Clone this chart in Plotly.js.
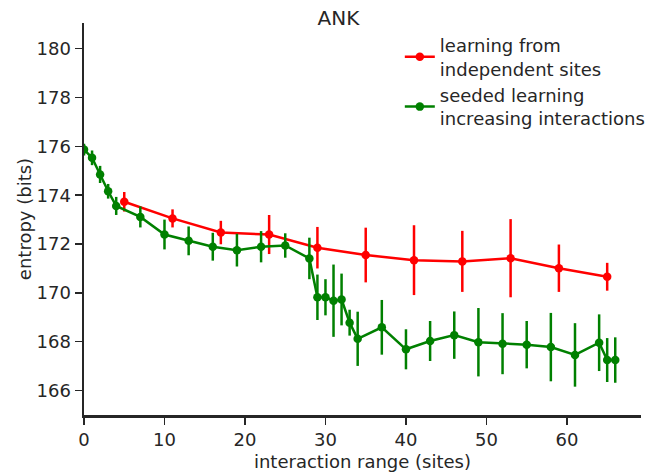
<!DOCTYPE html>
<html>
<head>
<meta charset="utf-8">
<script src="https://cdn.plot.ly/plotly-3.0.1.min.js"></script>
<style>html,body{margin:0;padding:0;background:#fff;}#chart{width:652px;height:475px;}</style>
</head>
<body>
<div id="chart"></div>
<script>
// Red series: learning from independent sites
const indepX   = [5, 11, 17, 23, 29, 35, 41, 47, 53, 59, 65];
const indepY   = [173.73, 173.05, 172.47, 172.39, 171.85, 171.55, 171.34, 171.29, 171.42, 171.01, 170.66];
const indepErr = [0.40, 0.37, 0.48, 0.80, 0.85, 1.12, 1.43, 1.25, 1.60, 0.97, 0.57];

// Green series: seeded learning increasing interactions
const seededX   = [0, 1, 2, 3, 4, 7, 10, 13, 16, 19, 22, 25, 28, 29, 30, 31, 32, 33, 34, 37, 40, 43, 46, 49, 52, 55, 58, 61, 64, 65, 66];
const seededY   = [175.87, 175.53, 174.85, 174.16, 173.56, 173.11, 172.39, 172.13, 171.89, 171.75, 171.89, 171.94, 171.41, 169.82, 169.82, 169.68, 169.73, 168.78, 168.12, 168.59, 167.69, 168.03, 168.27, 167.98, 167.92, 167.88, 167.78, 167.46, 167.96, 167.25, 167.25];
const seededErr = [0.24, 0.30, 0.35, 0.30, 0.37, 0.43, 0.61, 0.59, 0.57, 0.67, 0.64, 0.50, 0.85, 0.93, 0.74, 1.48, 1.06, 0.53, 1.11, 1.12, 0.82, 0.82, 0.97, 1.40, 1.25, 0.97, 1.40, 1.30, 1.16, 0.90, 0.93];

const yTicks = [166, 168, 170, 172, 174, 176, 178, 180];
const xTicks = [0, 10, 20, 30, 40, 50, 60];

const FONT = 'DejaVu Sans, sans-serif';
const TXT = '#262626';
const FS = 18;

function series(x, y, err, color, name) {
  return {
    x: x, y: y, name: name, type: 'scatter', mode: 'lines+markers',
    line: {color: color, width: 2.5},
    marker: {color: color, size: 8.5},
    error_y: {type: 'data', array: err, visible: true, color: color, thickness: 2.5, width: 0}
  };
}

const data = [
  series(indepX, indepY, indepErr, '#ff0000', 'learning from<br>independent sites'),
  series(seededX, seededY, seededErr, '#008000', 'seeded learning<br>increasing interactions')
];

const layout = {
  width: 652, height: 475,
  margin: {l: 84, r: 11, t: 23, b: 60, autoexpand: false},
  paper_bgcolor: '#fff', plot_bgcolor: '#fff',
  font: {family: FONT, size: FS, color: TXT},
  title: {text: 'ANK', x: 0.519, xref: 'container', y: 0.962, yref: 'container', yanchor: 'middle', xanchor: 'center',
          font: {family: FONT, size: 20, color: TXT}},
  xaxis: {
    range: [0, 69.2], tickvals: xTicks, ticktext: xTicks.map(String),
    showgrid: false, zeroline: false, showline: true, linecolor: TXT, linewidth: 2.5,
    ticks: 'outside', ticklen: 7, tickwidth: 1.5, tickcolor: TXT,
    tickfont: {family: FONT, size: FS, color: TXT},
    title: {text: 'interaction range (sites)', font: {family: FONT, size: FS, color: TXT}, standoff: 7}
  },
  yaxis: {
    range: [165, 181.05], tickvals: yTicks, ticktext: yTicks.map(String),
    showgrid: false, zeroline: false, showline: true, linecolor: TXT, linewidth: 2.5,
    ticks: 'outside', ticklen: 7, tickwidth: 1.5, tickcolor: TXT,
    tickfont: {family: FONT, size: FS, color: TXT},
    title: {text: 'entropy (bits)', font: {family: FONT, size: FS, color: TXT}, standoff: 0}
  },
  showlegend: true,
  legend: {x: 0.567, y: 0.99, xanchor: 'left', yanchor: 'top', bgcolor: 'rgba(0,0,0,0)',
           font: {family: FONT, size: FS, color: TXT}, tracegroupgap: 0, itemwidth: 30}
};

Plotly.newPlot('chart', data, layout, {displayModeBar: false, staticPlot: true});
</script>
</body>
</html>
